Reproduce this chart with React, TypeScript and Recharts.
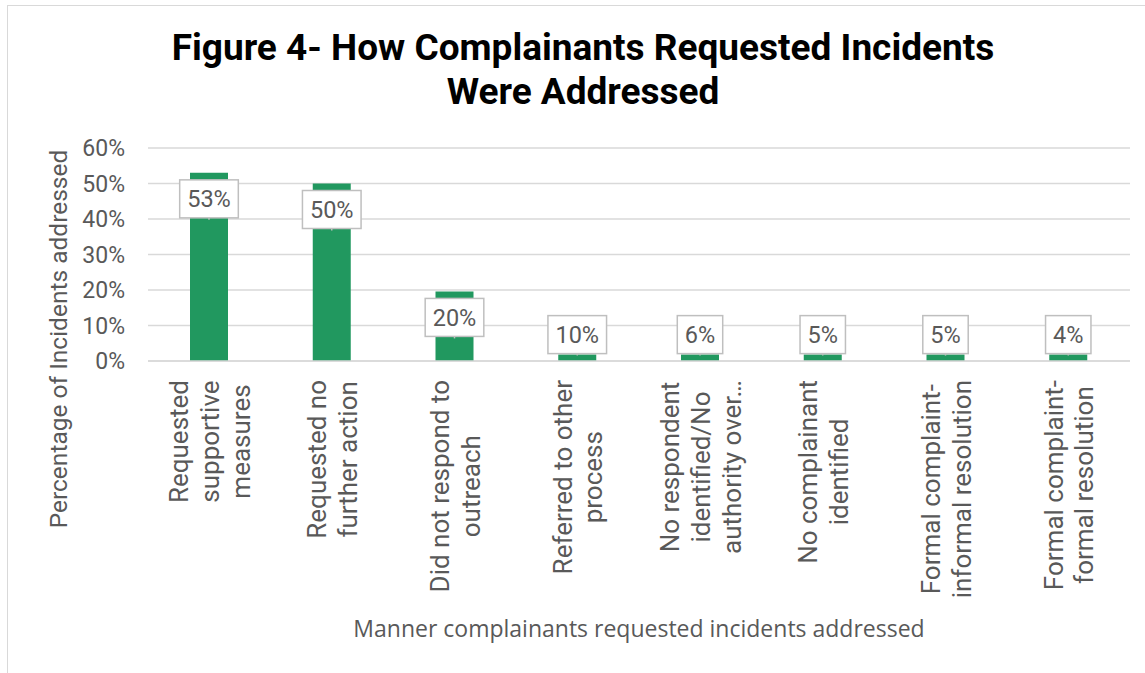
import { Bar, BarChart, CartesianGrid, LabelList, XAxis, YAxis } from 'recharts'

const categories = [
  'Requested\nsupportive\nmeasures',
  'Requested no\nfurther action',
  'Did not respond to\noutreach',
  'Referred to other\nprocess',
  'No respondent\nidentified/No\nauthority over…',
  'No complainant\nidentified',
  'Formal complaint-\ninformal resolution',
  'Formal complaint-\nformal resolution',
]
// bar heights as drawn in the figure
const drawnValues = [53, 50, 19.6, 1.8, 1.8, 1.8, 1.8, 1.8]
// data label texts shown on the figure
const labelTexts = ['53%', '50%', '20%', '10%', '6%', '5%', '5%', '4%']
const yTicks = [0, 10, 20, 30, 40, 50, 60]

const data = categories.map((name, i) => ({ name, value: drawnValues[i], label: labelTexts[i] }))

const GREY = '#595959'
const FONT = 'Roboto, "Noto Sans", sans-serif'

let ctx: CanvasRenderingContext2D | null = null
function measure(text: string, font: string) {
  if (!ctx) ctx = document.createElement('canvas').getContext('2d')
  if (!ctx) return text.length * 10
  ctx.font = font
  return ctx.measureText(text).width
}

const X_FONT_SIZE = 26
const X_LINE = 31

function CategoryTick(props: any) {
  const { x, y, payload } = props
  const lines = String(payload.value).split('\n')
  const maxLen = Math.max(...lines.map((l) => measure(l, `${X_FONT_SIZE}px ${FONT}`)))
  const mid = -(19 + maxLen / 2)
  const n = lines.length
  return (
    <g transform={`translate(${x},${y})`}>
      <text transform="rotate(-90)" textAnchor="middle" fill={GREY} fontSize={X_FONT_SIZE} fontFamily={FONT}>
        {lines.map((l, i) => (
          <tspan key={i} x={mid} y={(i - (n - 1) / 2) * X_LINE + X_FONT_SIZE * 0.36}>
            {l}
          </tspan>
        ))}
      </text>
    </g>
  )
}

function BoxLabel(props: any) {
  const { x, y, width, height, value } = props
  const fs = 23.5
  const text = String(value)
  const w = measure(text, `${fs}px ${FONT}`) + 15
  const h = 38
  const cx = x + width / 2
  const top = height > 60 ? y + 7 : y - h - 1
  return (
    <g>
      <rect x={cx - w / 2} y={top} width={w} height={h} fill="#fff" stroke="#bfbfbf" strokeWidth={1.5} />
      <line x1={cx} x2={cx} y1={top + h} y2={top + h + 2} stroke="#bfbfbf" strokeWidth={1.5} />
      <text x={cx} y={top + h / 2 + fs * 0.36} textAnchor="middle" fill={GREY} fontSize={fs} fontFamily={FONT}>
        {text}
      </text>
    </g>
  )
}

export default function App() {
  return (
    <div style={{ position: 'relative', width: 1145, height: 673, background: '#fff', overflow: 'hidden' }}>
      <style>{`body{margin:0}`}</style>
      <div
        style={{
          position: 'absolute',
          left: 7,
          top: 5,
          width: 1160,
          height: 700,
          border: '1.5px solid #d9d9d9',
          boxSizing: 'border-box',
        }}
      />
      <div
        style={{
          position: 'absolute',
          left: 0,
          top: 26,
          width: 1166,
          textAlign: 'center',
          fontFamily: FONT,
          fontWeight: 700,
          fontSize: 37,
          lineHeight: '44px',
          color: '#000',
        }}
      >
        Figure 4- How Complainants Requested Incidents
        <br />
        Were Addressed
      </div>
      <div
        style={{
          position: 'absolute',
          left: 58,
          top: 339,
          transform: 'translate(-50%,-50%) rotate(-90deg)',
          whiteSpace: 'nowrap',
          fontFamily: FONT,
          fontSize: 24.5,
          color: GREY,
        }}
      >
        Percentage of Incidents addressed
      </div>
      <div
        style={{
          position: 'absolute',
          left: 0,
          top: 612,
          width: 1278,
          textAlign: 'center',
          fontFamily: '"Open Sans", sans-serif',
          fontSize: 23,
          color: GREY,
        }}
      >
        Manner complainants requested incidents addressed
      </div>
      <div style={{ position: 'absolute', left: 0, top: 0 }}>
        <BarChart width={1145} height={673} data={data} margin={{ top: 148, right: 15, bottom: 12, left: 0 }}>
          <CartesianGrid horizontal vertical={false} stroke="#d9d9d9" strokeWidth={1.5} />
          <XAxis
            dataKey="name"
            interval={0}
            height={300}
            tickSize={0}
            tickMargin={0}
            axisLine={{ stroke: '#d9d9d9', strokeWidth: 1.5 }}
            tickLine={false}
            tick={<CategoryTick />}
          />
          <YAxis
            width={148}
            domain={[0, 60]}
            ticks={yTicks}
            tickFormatter={(v) => `${v}%`}
            axisLine={false}
            tickLine={false}
            tickSize={0}
            tickMargin={23}
            tick={{ fill: GREY, fontSize: 23, fontFamily: FONT }}
          />
          <Bar dataKey="value" fill="#21985f" barSize={38} isAnimationActive={false}>
            <LabelList dataKey="label" content={<BoxLabel />} />
          </Bar>
        </BarChart>
      </div>
    </div>
  )
}
